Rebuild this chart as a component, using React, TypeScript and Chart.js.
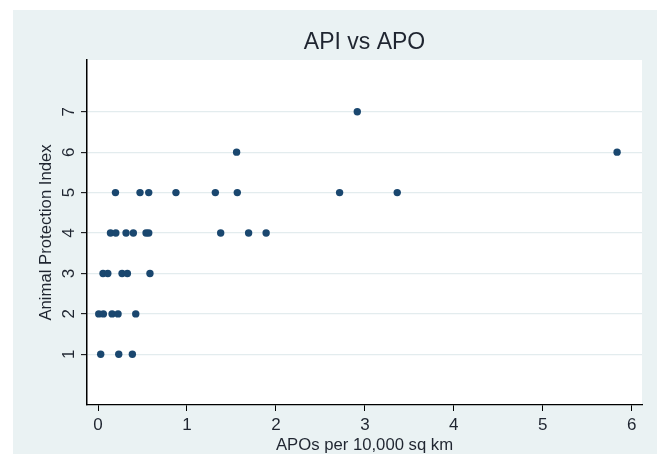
import React, { useEffect, useRef } from "react";
import { Chart, registerables } from "chart.js";

Chart.register(...registerables);

const chartTitle = "API vs APO";
const xAxisTitle = "APOs per 10,000 sq km";
const yAxisTitle = "Animal Protection Index";
const xTickValues = [0, 1, 2, 3, 4, 5, 6];
const yTickValues = [1, 2, 3, 4, 5, 6, 7];

// APOs per 10,000 sq km (x) and Animal Protection Index (y)
const apoValues = [
  0.03, 0.233, 0.386,
  0.008, 0.06, 0.158, 0.225, 0.424,
  0.056, 0.11, 0.27, 0.33, 0.584,
  0.14, 0.2, 0.315, 0.397, 0.54, 0.57, 1.379, 1.693, 1.89,
  0.196, 0.472, 0.57, 0.876, 1.319, 1.566, 2.716, 3.364,
  1.558, 5.836,
  2.915,
];
const apiValues = [
  1, 1, 1,
  2, 2, 2, 2, 2,
  3, 3, 3, 3, 3,
  4, 4, 4, 4, 4, 4, 4, 4, 4,
  5, 5, 5, 5, 5, 5, 5, 5,
  6, 6,
  7,
];

const BG = "#EAF2F3";
const NAVY = "#1a476f";
const TEXT = "#1f2530";
const FONT = "Arial, 'Liberation Sans', sans-serif";

const plotBg = {
  id: "plotBg",
  beforeDraw(chart: any) {
    const { ctx, chartArea } = chart;
    ctx.save();
    ctx.fillStyle = "#ffffff";
    ctx.fillRect(chartArea.left, chartArea.top, chartArea.right - chartArea.left, chartArea.bottom - chartArea.top);
    ctx.restore();
  },
};

export default function App() {
  const ref = useRef<HTMLCanvasElement | null>(null);
  useEffect(() => {
    if (!ref.current) return;
    const points = apoValues.map((x, i) => ({ x, y: apiValues[i] }));
    const chart = new Chart(ref.current, {
      type: "scatter",
      data: {
        datasets: [
          {
            data: points,
            backgroundColor: NAVY,
            borderColor: NAVY,
            borderWidth: 0,
            pointRadius: 3.7,
            pointHoverRadius: 3.7,
          },
        ],
      },
      plugins: [plotBg],
      options: {
        animation: false,
        responsive: false,
        devicePixelRatio: 1,
        layout: { padding: { left: 0, right: 15, top: 0, bottom: 0 } },
        plugins: {
          legend: { display: false },
          tooltip: { enabled: false },
          title: {
            display: true,
            text: chartTitle,
            fullSize: false,
            color: TEXT,
            font: { family: FONT, size: 23, weight: "normal", lineHeight: 1.2 },
            padding: { top: 19, bottom: 3.4 },
          },
        },
        scales: {
          x: {
            type: "linear",
            min: -0.124,
            max: 6.116,
            afterBuildTicks: (s: any) => {
              s.ticks = xTickValues.map((v) => ({ value: v }));
            },
            afterFit: (s: any) => {
              s.height = 49;
            },
            grid: { drawOnChartArea: false, drawTicks: true, tickLength: 6, tickColor: "#000", tickWidth: 1 },
            border: { display: true, color: "#000", width: 1.3 },
            ticks: {
              color: TEXT,
              font: { family: FONT, size: 17 },
              padding: 4,
              maxRotation: 0,
              minRotation: 0,
              callback: (v: any) => String(v),
            },
            title: {
              display: true,
              text: xAxisTitle,
              color: TEXT,
              font: { family: FONT, size: 16.7, lineHeight: 1 },
              padding: { top: 0, bottom: 0 },
            },
          },
          y: {
            type: "linear",
            min: -0.254,
            max: 8.28,
            afterBuildTicks: (s: any) => {
              s.ticks = yTickValues.map((v) => ({ value: v }));
            },
            afterFit: (s: any) => {
              s.width = 74;
            },
            grid: { drawOnChartArea: true, color: "#e3ecee", lineWidth: 1.3, drawTicks: true, tickLength: 6, tickColor: "#000", tickWidth: 1 },
            border: { display: true, color: "#000", width: 1.5 },
            ticks: {
              color: TEXT,
              font: { family: FONT, size: 17 },
              padding: 7,
              minRotation: 90,
              maxRotation: 90,
              crossAlign: "center",
              callback: (v: any) => String(v),
            },
            title: {
              display: true,
              text: yAxisTitle,
              color: TEXT,
              font: { family: FONT, size: 16.7, lineHeight: 1 },
              padding: { top: 24.6, bottom: 0 },
            },
          },
        },
      },
    } as any);
    return () => chart.destroy();
  }, []);

  return (
    <div style={{ position: "absolute", left: 13, top: 10, width: 644, height: 444, background: BG }}>
      <canvas ref={ref} width={644} height={444} style={{ width: 644, height: 444, display: "block" }} />
    </div>
  );
}
